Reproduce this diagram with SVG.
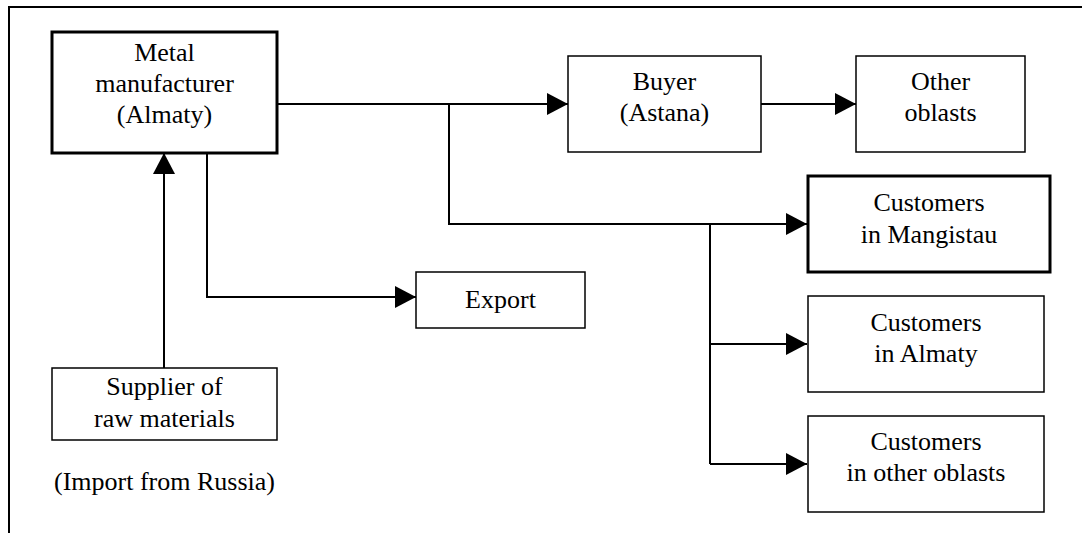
<svg xmlns="http://www.w3.org/2000/svg" width="1082" height="533" viewBox="0 0 1082 533">
<style>
.box{fill:#fff;stroke:#000;stroke-width:1.5}
.thick{fill:#fff;stroke:#000;stroke-width:3}
.t{font-size:26px;fill:#000;text-anchor:middle}
.c{fill:none;stroke:#000;stroke-width:2}
</style>
<defs>
<marker id="ah" markerUnits="userSpaceOnUse" markerWidth="21" markerHeight="22" refX="21" refY="11" orient="auto">
<path d="M0,0 L21,11 L0,22 z" fill="#000"/>
</marker>
</defs>
<rect x="9" y="7" width="1090" height="540" fill="#fff" stroke="#000" stroke-width="2"/>
<g id="connectors">
<path class="c" d="M277,104 H568" marker-end="url(#ah)"/>
<path class="c" d="M449,104 V224 H807" marker-end="url(#ah)"/>
<path class="c" d="M761,104 H856" marker-end="url(#ah)"/>
<path class="c" d="M710,224 V464"/>
<path class="c" d="M710,344 H807" marker-end="url(#ah)"/>
<path class="c" d="M710,464 H807" marker-end="url(#ah)"/>
<path class="c" d="M207,153 V297 H416" marker-end="url(#ah)"/>
<path class="c" d="M164,368 V153" marker-end="url(#ah)"/>
</g>
<g font-family="'Liberation Serif', 'DejaVu Serif', serif">
<g id="metal">
<rect class="thick" x="52" y="32" width="225" height="121"/>
<text class="t" x="164.5" y="61">Metal</text>
<text class="t" x="164.5" y="92">manufacturer</text>
<text class="t" x="164.5" y="123">(Almaty)</text>
</g>
<g id="buyer">
<rect class="box" x="568" y="56" width="193" height="96"/>
<text class="t" x="664.5" y="90">Buyer</text>
<text class="t" x="664.5" y="121">(Astana)</text>
</g>
<g id="other">
<rect class="box" x="856" y="56" width="169" height="96"/>
<text class="t" x="940.5" y="90">Other</text>
<text class="t" x="940.5" y="121">oblasts</text>
</g>
<g id="mangistau">
<rect class="thick" x="808" y="176" width="242" height="96"/>
<text class="t" x="929" y="211">Customers</text>
<text class="t" x="929" y="243">in Mangistau</text>
</g>
<g id="export">
<rect class="box" x="416" y="272" width="169" height="56"/>
<text class="t" x="500.5" y="308">Export</text>
</g>
<g id="almaty">
<rect class="box" x="808" y="296" width="236" height="96"/>
<text class="t" x="926" y="331">Customers</text>
<text class="t" x="926" y="362">in Almaty</text>
</g>
<g id="otheroblasts">
<rect class="box" x="808" y="416" width="236" height="96"/>
<text class="t" x="926" y="450">Customers</text>
<text class="t" x="926" y="481">in other oblasts</text>
</g>
<g id="supplier">
<rect class="box" x="52" y="368" width="225" height="72"/>
<text class="t" x="164.5" y="395">Supplier of</text>
<text class="t" x="164.5" y="427">raw materials</text>
</g>
<g id="import-note">
<text class="t" x="164.5" y="490">(Import from Russia)</text>
</g>
</g>
</svg>
